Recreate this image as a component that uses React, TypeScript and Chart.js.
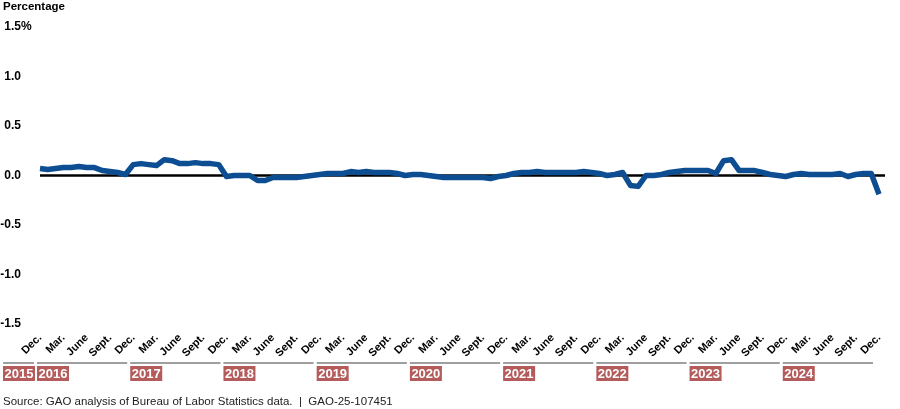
import React, { useEffect, useRef } from 'react';
import { Chart, registerables } from 'chart.js';

Chart.register(...registerables);

// ---- Data ----
const years = [2016, 2017, 2018, 2019, 2020, 2021, 2022, 2023, 2024];
const monthNames = ['Jan.', 'Feb.', 'Mar.', 'Apr.', 'May', 'June', 'July', 'Aug.', 'Sept.', 'Oct.', 'Nov.', 'Dec.'];
const tickMonths = ['Dec.', 'Mar.', 'June', 'Sept.'];
const yearBoxes = ['2015', '2016', '2017', '2018', '2019', '2020', '2021', '2022', '2023', '2024'];
const yTicks = [1.5, 1.0, 0.5, 0.0, -0.5, -1.0, -1.5];
const yTickLabels = ['1.5', '1.0', '0.5', '0.0', '-0.5', '-1.0', '-1.5'];

// Monthly values, Dec. 2015 through Dec. 2024 (percentage)
const values = [
  // Dec. 2015
  0.07,
  // 2016
  0.06, 0.07, 0.08, 0.08, 0.09, 0.08, 0.08, 0.05, 0.04, 0.03, 0.01, 0.11,
  // 2017
  0.12, 0.11, 0.10, 0.16, 0.15, 0.12, 0.12, 0.13, 0.12, 0.12, 0.11, -0.01,
  // 2018
  0.0, 0.0, 0.0, -0.05, -0.05, -0.02, -0.02, -0.02, -0.02, -0.01, 0.0, 0.01,
  // 2019
  0.02, 0.02, 0.02, 0.04, 0.03, 0.04, 0.03, 0.03, 0.03, 0.02, 0.0, 0.01,
  // 2020
  0.01, 0.0, -0.01, -0.02, -0.02, -0.02, -0.02, -0.02, -0.02, -0.03, -0.01, 0.0,
  // 2021
  0.02, 0.03, 0.03, 0.04, 0.03, 0.03, 0.03, 0.03, 0.03, 0.04, 0.03, 0.02,
  // 2022
  0.0, 0.01, 0.03, -0.10, -0.11, 0.0, 0.0, 0.01, 0.03, 0.04, 0.05, 0.05,
  // 2023
  0.05, 0.05, 0.02, 0.15, 0.16, 0.05, 0.05, 0.05, 0.03, 0.01, 0.0, -0.01,
  // 2024
  0.01, 0.02, 0.01, 0.01, 0.01, 0.01, 0.02, -0.01, 0.01, 0.02, 0.02, -0.19,
];

const categories: string[] = ['Dec. 2015'];
years.forEach((y) => monthNames.forEach((m) => categories.push(`${m} ${y}`)));

const FONT = '"Liberation Sans", Arial, Helvetica, sans-serif';
const LINE_COLOR = '#0d4d91';
const BOX_COLOR = '#b45b5c';

const overlay = {
  id: 'overlay',
  beforeDatasetsDraw(chart: any) {
    const { ctx, chartArea, scales } = chart;
    const y0 = scales.y.getPixelForValue(0);
    ctx.save();
    ctx.strokeStyle = '#000';
    ctx.lineWidth = 2.5;
    ctx.beginPath();
    ctx.moveTo(chartArea.left, y0);
    ctx.lineTo(chartArea.right + 6, y0);
    ctx.stroke();
    ctx.restore();
  },
  afterDraw(chart: any) {
    const { ctx, scales } = chart;
    const xs = scales.x;
    const ys = scales.y;
    ctx.save();

    // Axis title
    ctx.fillStyle = '#000';
    ctx.font = `bold 11.5px ${FONT}`;
    ctx.textAlign = 'left';
    ctx.textBaseline = 'middle';
    ctx.fillText('Percentage', 3, 7);

    // Y tick labels
    ctx.font = `bold 12px ${FONT}`;
    yTicks.forEach((v, i) => {
      const py = ys.getPixelForValue(v);
      ctx.textAlign = 'right';
      ctx.fillText(yTickLabels[i], 21, py);
      if (i === 0) {
        ctx.textAlign = 'left';
        ctx.fillText('%', 21, py);
      }
    });

    // X tick labels (rotated)
    ctx.font = `bold 11px ${FONT}`;
    ctx.textAlign = 'right';
    ctx.textBaseline = 'middle';
    for (let i = 0; i < categories.length; i += 3) {
      const px = xs.getPixelForValue(i);
      const label = tickMonths[(i / 3) % 4];
      ctx.save();
      ctx.translate(px, 336);
      ctx.rotate(-Math.PI / 4);
      ctx.fillText(label, 0, 0);
      ctx.restore();
    }

    // Year group lines and boxes
    const lineY = 363;
    const boxTop = 366;
    const boxH = 15;
    const boxW = 32;
    yearBoxes.forEach((yr, k) => {
      let start: number;
      let end: number;
      if (k === 0) {
        start = 3;
        end = xs.getPixelForValue(0) - 6;
      } else {
        start = xs.getPixelForValue((k - 1) * 12) - 3;
        end = xs.getPixelForValue(k * 12) - 6;
      }
      ctx.strokeStyle = '#7f7f7f';
      ctx.lineWidth = 1.5;
      ctx.beginPath();
      ctx.moveTo(start, lineY);
      ctx.lineTo(end, lineY);
      ctx.stroke();
      ctx.fillStyle = BOX_COLOR;
      ctx.fillRect(start, boxTop, boxW, boxH);
      ctx.fillStyle = '#fff';
      ctx.font = `bold 13px ${FONT}`;
      ctx.textAlign = 'left';
      ctx.textBaseline = 'middle';
      ctx.fillText(yr, start + 1.5, boxTop + boxH / 2 + 0.5);
    });

    // Source
    ctx.fillStyle = '#222';
    ctx.font = `11.5px ${FONT}`;
    ctx.textAlign = 'left';
    ctx.textBaseline = 'middle';
    ctx.fillText('Source: GAO analysis of Bureau of Labor Statistics data.  |  GAO-25-107451', 3, 402);

    ctx.restore();
  },
};

export default function App() {
  const canvasRef = useRef<HTMLCanvasElement | null>(null);

  useEffect(() => {
    document.body.style.margin = '0';
    const canvas = canvasRef.current;
    if (!canvas) return;
    const chart = new Chart(canvas, {
      type: 'line',
      data: {
        labels: categories,
        datasets: [
          {
            data: values,
            borderColor: LINE_COLOR,
            borderWidth: 5.5,
            pointRadius: 0,
            pointHoverRadius: 0,
            tension: 0,
            fill: false,
            borderJoinStyle: 'round',
            borderCapStyle: 'butt',
            clip: false as any,
          },
        ],
      },
      options: {
        animation: false,
        responsive: true,
        maintainAspectRatio: false,
        devicePixelRatio: 1,
        layout: { padding: { left: 40, right: 21, top: 27, bottom: 85 } },
        plugins: {
          legend: { display: false },
          tooltip: { enabled: false },
        },
        events: [],
        scales: {
          x: {
            type: 'category',
            display: false,
            offset: false,
          },
          y: {
            display: false,
            min: -1.5,
            max: 1.5,
          },
        },
      },
      plugins: [overlay],
    });
    return () => chart.destroy();
  }, []);

  return (
    <div style={{ position: 'relative', width: 900, height: 409, background: '#fff' }}>
      <canvas ref={canvasRef} />
    </div>
  );
}
